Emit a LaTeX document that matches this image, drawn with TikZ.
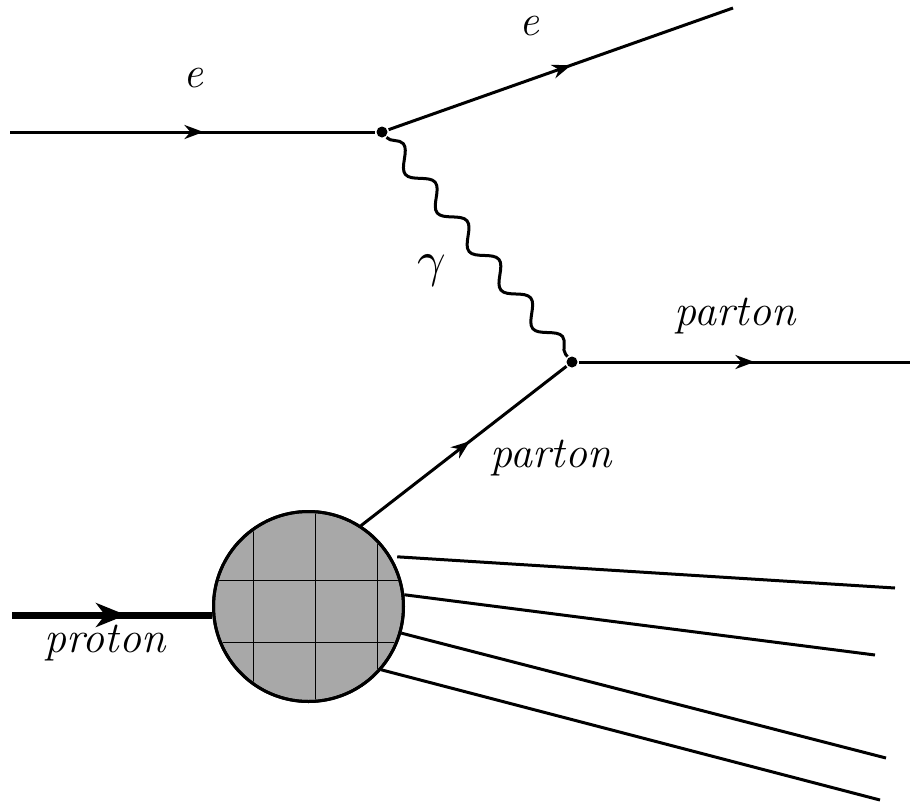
\documentclass[tikz,border=0pt]{standalone}
\usepackage{graphicx}
\usetikzlibrary{decorations.pathmorphing,decorations.markings,arrows.meta}
\begin{document}
\begin{tikzpicture}[x=1pt,y=-1pt,line width=3pt,
  lbl/.style={font=\fontsize{44}{44}\selectfont\itshape,inner sep=0pt,anchor=base},
  glbl/.style={inner sep=0pt},
  midarrow/.style={postaction={decorate},decoration={markings,
     mark=at position #1 with {\arrow{Stealth[length=19pt,width=14pt,inset=6pt]}}}},
  bigarrow/.style={postaction={decorate},decoration={markings,
     mark=at position #1 with {\arrow{Stealth[length=30pt,width=24pt,inset=9pt]}}}},
  vtx/.style={circle,fill=black,inner sep=0pt,minimum size=11pt},
  photon/.style={decorate,decoration={snake,amplitude=9pt,segment length=50pt}},
  blobstyle/.style={circle,draw,line width=3pt,minimum size=190pt,inner sep=0pt},
  gridline/.style={line width=1pt}
]
\useasboundingbox (0,0) rectangle (911,807);
% vertices and endpoints
\coordinate (ein) at (10,132);
\node[vtx] (v1) at (382,132) {};
\coordinate (eout) at (733,8);
\node[vtx] (v2) at (572,362) {};
\coordinate (pout) at (910,362);
\coordinate (prin) at (12,615);
% blob
\node[blobstyle,fill=gray!68] (blob) at (308.5,606.5) {};
\begin{scope}
  \clip (308.5,606.5) circle (93pt);
  \foreach \gx in {253,315,377} \draw[gridline] (\gx,500) -- (\gx,720);
  \foreach \gy in {580,642} \draw[gridline] (200,\gy) -- (420,\gy);
\end{scope}
\node[blobstyle] at (blob.center) {};
% remnants
\coordinate (r1) at (895,588);
\coordinate (r2) at (875,655);
\coordinate (r3) at (886,758);
\coordinate (r4) at (880,800);
\draw ([shift={(6,0)}]blob.31) -- (r1);
\draw (blob.7) -- (r2);
\draw (blob.-16) -- (r3);
\draw (blob.-41) -- (r4);
% electron lines
\draw[midarrow=0.53] (ein) -- (v1);
\draw[midarrow=0.53] (v1) -- (eout);
% photon
\draw[photon] (v1) -- (v2);
% partons
\draw[midarrow=0.53] (blob.57) -- (v2);
\draw[midarrow=0.53] (v2) -- (pout);
% proton
\draw[line width=7pt,bigarrow=0.57] (prin) -- (prin -| blob.west);
% labels
\node[lbl] (le1) at (193,87) {e};
\node[lbl] (le2) at (529,35) {e};
\node[glbl] (lg) at (432,271) {\scalebox{5}{$\gamma$}};
\node[lbl] (lp1) at (735,325) {parton};
\node[lbl] (lp2) at (551,467) {parton};
\node[lbl] (lpr) at (105,652) {proton};
\end{tikzpicture}
\end{document}
